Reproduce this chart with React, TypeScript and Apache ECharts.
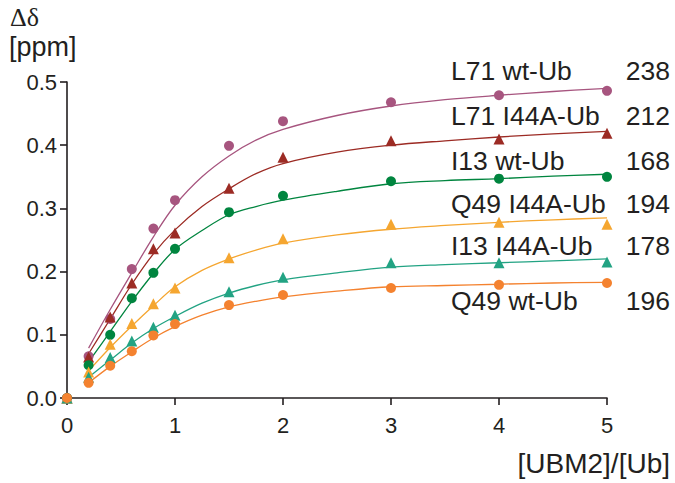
import React, { useEffect, useRef } from "react";
import * as echarts from "echarts";

const xPts = [0, 0.2, 0.4, 0.6, 0.8, 1, 1.5, 2, 3, 4, 5];
const L71wt = [0, 0.066, 0.125, 0.204, 0.268, 0.313, 0.399, 0.438, 0.468, 0.479, 0.486];
const L71I44A = [0, 0.065, 0.128, 0.182, 0.236, 0.261, 0.332, 0.381, 0.407, 0.410, 0.419];
const I13wt = [0, 0.052, 0.100, 0.158, 0.198, 0.236, 0.294, 0.320, 0.343, 0.347, 0.350];
const Q49I44A = [0, 0.041, 0.085, 0.118, 0.149, 0.174, 0.222, 0.252, 0.275, 0.278, 0.275];
const I13I44A = [0, 0.033, 0.064, 0.090, 0.112, 0.131, 0.168, 0.191, 0.214, 0.214, 0.215];
const Q49wt = [0, 0.024, 0.051, 0.074, 0.099, 0.117, 0.147, 0.163, 0.174, 0.179, 0.182];

const fitX = [0.2, 0.4, 0.6, 0.8, 1, 1.25, 1.5, 1.75, 2, 2.5, 3, 3.5, 4, 4.5, 5];
const L71wtFit = [0.079, 0.140, 0.198, 0.255, 0.305, 0.350, 0.383, 0.408, 0.425, 0.447, 0.462, 0.472, 0.479, 0.485, 0.490];
const L71I44AFit = [0.070, 0.125, 0.180, 0.228, 0.266, 0.303, 0.331, 0.355, 0.371, 0.389, 0.400, 0.407, 0.413, 0.418, 0.422];
const I13wtFit = [0.057, 0.105, 0.153, 0.197, 0.235, 0.265, 0.290, 0.303, 0.313, 0.327, 0.339, 0.344, 0.347, 0.351, 0.354];
const Q49I44AFit = [0.043, 0.080, 0.114, 0.146, 0.176, 0.202, 0.220, 0.234, 0.245, 0.258, 0.267, 0.273, 0.278, 0.282, 0.285];
const I13I44AFit = [0.033, 0.060, 0.087, 0.110, 0.129, 0.150, 0.166, 0.178, 0.187, 0.198, 0.207, 0.211, 0.214, 0.217, 0.220];
const Q49wtFit = [0.024, 0.050, 0.073, 0.095, 0.113, 0.131, 0.144, 0.153, 0.160, 0.169, 0.176, 0.178, 0.180, 0.182, 0.183];

const seriesNames = ["L71 wt-Ub", "L71 I44A-Ub", "I13 wt-Ub", "Q49 I44A-Ub", "I13 I44A-Ub", "Q49 wt-Ub"];
const seriesCounts = ["238", "212", "168", "194", "178", "196"];
const seriesPoints = [L71wt, L71I44A, I13wt, Q49I44A, I13I44A, Q49wt];
const seriesFits = [L71wtFit, L71I44AFit, I13wtFit, Q49I44AFit, I13I44AFit, Q49wtFit];
const seriesSymbols = ["circle", "triangle", "circle", "triangle", "triangle", "circle"];
const seriesColors = ["#a7557f", "#9c2b24", "#00853f", "#f5a630", "#22a383", "#f4822f"];
const labelY = [71, 116, 161, 204, 246, 301];

const yTicks = [0, 0.1, 0.2, 0.3, 0.4, 0.5];
const xTicks = [0, 1, 2, 3, 4, 5];

const FONT = '"Liberation Sans", Arial, Helvetica, sans-serif';
const INK = "#231f20";

export default function App() {
  const ref = useRef<HTMLDivElement>(null);
  useEffect(() => {
    if (!ref.current) return;
    const chart = echarts.init(ref.current, null, { renderer: "svg" });
    const series: any[] = [];
    seriesFits.forEach((fit, i) => {
      series.push({
        type: "line",
        name: seriesNames[i] + " fit",
        data: fitX.map((x, j) => [x, fit[j]]),
        smooth: 0.35,
        showSymbol: false,
        symbol: "none",
        lineStyle: { color: seriesColors[i], width: 1.3 },
        z: 2,
      });
    });
    seriesPoints.forEach((pts, i) => {
      series.push({
        type: "scatter",
        name: seriesNames[i],
        data: xPts.map((x, j) => [x, pts[j]]),
        symbol: seriesSymbols[i],
        symbolSize: seriesSymbols[i] === "triangle" ? 11 : 10,
        itemStyle: { color: seriesColors[i], opacity: 1 },
        z: 3,
      });
    });
    const graphic: any[] = [
      { type: "text", left: 10, top: 4, style: { text: "Δδ", font: '26px "Liberation Serif", "Times New Roman", serif', fill: INK } },
      { type: "text", left: 9, top: 33, style: { text: "[ppm]", font: `27px ${FONT}`, fill: INK } },
      { type: "text", right: 5, top: 449, style: { text: "[UBM2]/[Ub]", font: `28px ${FONT}`, fill: INK } },
    ];
    seriesNames.forEach((n, i) => {
      graphic.push({
        type: "text",
        x: 451,
        y: labelY[i],
        style: { text: n, font: `26.5px ${FONT}`, fill: INK, textAlign: "left", textVerticalAlign: "middle" },
      });
      graphic.push({
        type: "text",
        x: 670,
        y: labelY[i],
        style: { text: seriesCounts[i], font: `26.5px ${FONT}`, fill: INK, textAlign: "right", textVerticalAlign: "middle" },
      });
    });
    chart.setOption({
      animation: false,
      backgroundColor: "#ffffff",
      grid: { left: 67, right: 68, top: 82, bottom: 85, containLabel: false },
      xAxis: {
        type: "value",
        min: xTicks[0],
        max: xTicks[xTicks.length - 1],
        interval: 1,
        axisLine: { show: true, lineStyle: { color: INK, width: 1.6 } },
        axisTick: { show: true, length: 7, lineStyle: { color: INK, width: 1.6 } },
        axisLabel: { color: INK, fontSize: 22, fontFamily: FONT, margin: 16 },
        splitLine: { show: false },
      },
      yAxis: {
        type: "value",
        min: yTicks[0],
        max: yTicks[yTicks.length - 1],
        interval: 0.1,
        axisLine: { show: true, lineStyle: { color: INK, width: 1.6 } },
        axisTick: { show: true, length: 7, lineStyle: { color: INK, width: 1.6 } },
        axisLabel: { color: INK, fontSize: 22, fontFamily: FONT, margin: 10, formatter: (v: number) => v.toFixed(1) },
        splitLine: { show: false },
      },
      series,
      graphic,
    });
    return () => chart.dispose();
  }, []);
  return <div ref={ref} style={{ width: 675, height: 483, position: "absolute", left: 0, top: 0 }} />;
}
